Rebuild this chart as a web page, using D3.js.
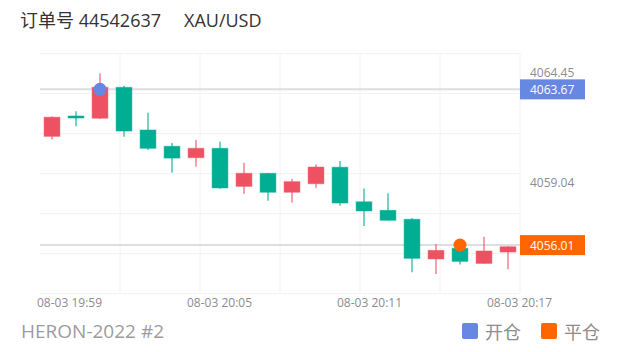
<!DOCTYPE html>
<html>
<head>
<meta charset="utf-8">
<script src="https://cdn.jsdelivr.net/npm/d3@7/dist/d3.min.js"></script>
<style>
  html, body { margin: 0; padding: 0; background: #fff; }
  svg { display: block; font-family: "Open Sans", "Noto Sans CJK SC", sans-serif; }
</style>
</head>
<body>
<svg id="chart" width="620" height="352"></svg>
<script>
// One-minute candles, XAU/USD
const times = ["19:58","19:59","20:00","20:01","20:02","20:03","20:04","20:05","20:06","20:07",
               "20:08","20:09","20:10","20:11","20:12","20:13","20:14","20:15","20:16","20:17"];
const openVals  = [4061.36,4062.31,4062.25,4063.77,4061.67,4060.87,4060.31,4060.77,4058.90,4059.54,
                   4058.61,4059.03,4059.84,4058.14,4057.72,4057.28,4055.33,4055.85,4055.11,4055.67];
const highVals  = [4062.34,4062.59,4064.45,4063.85,4062.52,4061.03,4061.18,4061.10,4060.06,4059.56,
                   4059.26,4059.98,4060.15,4058.80,4058.56,4057.34,4056.06,4055.95,4056.42,4055.95];
const lowVals   = [4061.21,4061.85,4062.22,4061.34,4060.69,4059.57,4059.87,4058.78,4058.54,4058.19,
                   4058.11,4058.83,4057.95,4056.95,4057.22,4054.67,4054.59,4055.06,4055.10,4054.82];
const closeVals = [4062.30,4062.29,4063.77,4061.62,4060.77,4060.29,4060.77,4058.82,4059.54,4058.61,
                   4059.13,4059.85,4058.08,4057.69,4057.23,4055.36,4055.75,4055.21,4055.72,4055.93];

const timeTickLabels = ["08-03 19:59","08-03 20:05","08-03 20:11","08-03 20:17"];
const priceDomain = [4053.63, 4064.45];
const priceTicks = [4064.45, 4059.04];

// Trade entry / exit
const orderNo = "44542637";
const symbol = "XAU/USD";
const entryTime = "20:00", entryPrice = 4063.67;
const exitTime = "20:15",  exitPrice = 4056.01;
const legendItems = [{ name: "开仓", color: "#6687e2" }, { name: "平仓", color: "#ff6600" }];
const accountName = "HERON-2022 #2";

const UP = "#ee5262", DOWN = "#00ae93";

const svg = d3.select("#chart");
const plot = { left: 40, right: 520, top: 53.5, bottom: 293.5 };

const x = d3.scaleBand().domain(times).range([plot.left, plot.right])
  .paddingInner(0.3).paddingOuter(0.15);
const y = d3.scaleLinear().domain(priceDomain).range([293.5, 73.5]);
const xLabel = d3.scalePoint().domain(timeTickLabels).range([69.5, 519.5]);

// background grid
const grid = svg.append("g").attr("stroke", "#f2f2f2").attr("stroke-width", 1);
d3.range(plot.top, plot.bottom + 1, 40).forEach(gy => {
  grid.append("line").attr("x1", plot.left).attr("x2", plot.right)
    .attr("y1", gy).attr("y2", gy);
});
d3.range(plot.left + 80, plot.right + 1, 80).forEach(gx => {
  grid.append("line").attr("x1", gx).attr("x2", gx)
    .attr("y1", plot.top).attr("y2", plot.bottom);
});

// trade price lines
[entryPrice, exitPrice].forEach(p => {
  svg.append("line").attr("x1", plot.left).attr("x2", plot.right)
    .attr("y1", y(p)).attr("y2", y(p))
    .attr("stroke", "#dedede").attr("stroke-width", 2);
});

// candles
const candles = times.map((t, i) => ({
  t, o: openVals[i], h: highVals[i], l: lowVals[i], c: closeVals[i]
}));
const cg = svg.append("g").selectAll("g").data(candles).join("g");
cg.append("line")
  .attr("x1", d => x(d.t) + x.bandwidth() / 2)
  .attr("x2", d => x(d.t) + x.bandwidth() / 2)
  .attr("y1", d => y(d.h)).attr("y2", d => y(d.l))
  .attr("stroke", d => d.c >= d.o ? UP : DOWN)
  .attr("stroke-opacity", 0.55).attr("stroke-width", 2);
cg.append("rect")
  .attr("x", d => x(d.t) + 0.5)
  .attr("width", x.bandwidth() - 1)
  .attr("y", d => Math.min(y(d.o), y(d.c)) - (Math.abs(y(d.o) - y(d.c)) < 2 ? 1 : 0))
  .attr("height", d => Math.max(2, Math.abs(y(d.o) - y(d.c))))
  .attr("fill", d => d.c >= d.o ? UP : DOWN)
  .attr("stroke", d => d.c >= d.o ? UP : DOWN)
  .attr("stroke-opacity", 0.5).attr("stroke-width", 1);

// entry / exit markers
svg.append("circle").attr("cx", x(entryTime) + x.bandwidth() / 2).attr("cy", y(entryPrice))
  .attr("r", 6.5).attr("fill", legendItems[0].color);
svg.append("circle").attr("cx", x(exitTime) + x.bandwidth() / 2).attr("cy", y(exitPrice))
  .attr("r", 6.5).attr("fill", legendItems[1].color);

// right price axis
const ya = svg.append("g").attr("font-size", 12).attr("fill", "#8c8c8c");
priceTicks.forEach(p => {
  ya.append("text").attr("x", 530).attr("y", y(p) - 1.5)
    .attr("dominant-baseline", "central").text(p.toFixed(2));
});
[[entryPrice, legendItems[0].color], [exitPrice, legendItems[1].color]].forEach(([p, col]) => {
  svg.append("rect").attr("x", plot.right).attr("y", y(p) - 10)
    .attr("width", 65).attr("height", 20).attr("fill", col);
  svg.append("text").attr("x", 530).attr("y", y(p) + 0.5)
    .attr("dominant-baseline", "central").attr("font-size", 12)
    .attr("fill", "#fff").text(p.toFixed(2));
});

// time axis labels
svg.append("g").selectAll("text").data(timeTickLabels).join("text")
  .attr("x", d => xLabel(d)).attr("y", 302.5)
  .attr("text-anchor", "middle").attr("dominant-baseline", "central")
  .attr("font-size", 12).attr("fill", "#8c8c8c").text(d => d);

// title
svg.append("text").attr("x", 20).attr("y", 27).attr("font-size", 18)
  .attr("fill", "#333").text("订单号 " + orderNo);
svg.append("text").attr("x", 184).attr("y", 27).attr("font-size", 18)
  .attr("fill", "#333").text(symbol);

// account name
svg.append("text").attr("x", 21).attr("y", 338).attr("font-size", 19)
  .attr("fill", "#9c9c9c").text(accountName);

// legend
const lg = svg.append("g").selectAll("g").data(legendItems).join("g")
  .attr("transform", (d, i) => `translate(${462 + i * 79},323)`);
lg.append("rect").attr("width", 16).attr("height", 16).attr("rx", 2)
  .attr("fill", d => d.color);
lg.append("text").attr("x", 23).attr("y", 8.5).attr("dominant-baseline", "central")
  .attr("font-size", 18).attr("fill", "#8c8c8c").text(d => d.name);
</script>
</body>
</html>
